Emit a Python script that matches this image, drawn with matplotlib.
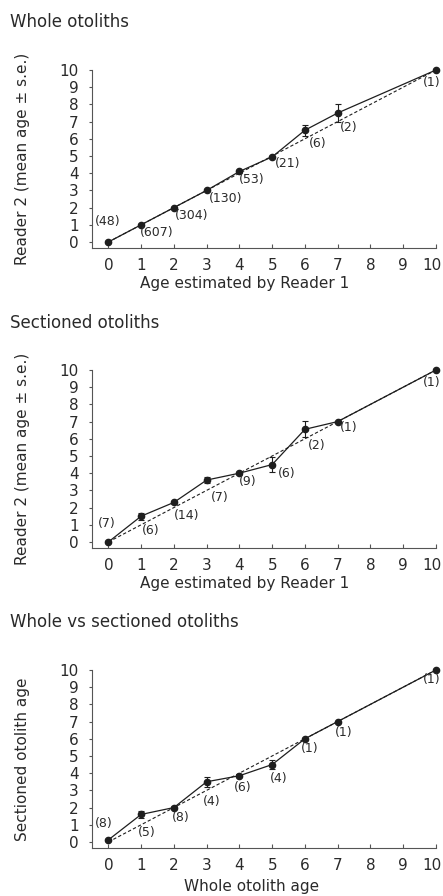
import matplotlib
matplotlib.use('Agg')
import matplotlib.pyplot as plt
from matplotlib.transforms import ScaledTranslation

# ages (x) shared by all three panels
ages = [0, 1, 2, 3, 4, 5, 6, 7, 10]

# Whole otoliths: reader 2 mean age, s.e., sample sizes
whole_mean = [0.0, 1.0, 2.0, 3.0, 4.1, 4.95, 6.5, 7.5, 10.0]
whole_se = [0.03, 0.02, 0.03, 0.03, 0.05, 0.05, 0.33, 0.5, 0.0]
whole_n = [48, 607, 304, 130, 53, 21, 6, 2, 1]

# Sectioned otoliths
sect_mean = [0.0, 1.5, 2.3, 3.6, 4.0, 4.5, 6.55, 7.0, 10.0]
sect_se = [0.05, 0.2, 0.1, 0.15, 0.05, 0.45, 0.47, 0.0, 0.0]
sect_n = [7, 6, 14, 7, 9, 6, 2, 1, 1]

# Whole vs sectioned
wvs_mean = [0.12, 1.6, 2.0, 3.5, 3.85, 4.5, 6.0, 7.0, 10.0]
wvs_se = [0.08, 0.22, 0.1, 0.28, 0.1, 0.25, 0.05, 0.0, 0.0]
wvs_n = [8, 5, 8, 4, 6, 4, 1, 1, 1]

# label offsets (pixels) for the (n) annotations
off_whole = [(-1, 20), (16, -8), (18, -8), (19, -8), (12, -8), (15, -7), (13, -13), (11, -15), (-4, -13)]
off_sect = [(-2, 18), (10, -14), (13, -13), (13, -17), (8, -8), (14, -9), (12, -16), (11, -6), (-4, -13)]
off_wvs = [(-5, 16), (6, -18), (7, -10), (5, -20), (3, -12), (6, -14), (5, -10), (6, -11), (-4, -10)]

TXT = '#2a2a2a'
LN = '#1e1e1e'
plt.rcParams['font.family'] = 'DejaVu Sans'

fig = plt.figure(figsize=(4.43, 8.96), dpi=100)

panels = [
    ('Whole otoliths', whole_mean, whole_se, whole_n, off_whole,
     'Age estimated by Reader 1', 'Reader 2 (mean age \u00b1 s.e.)', 0.7232, (0.445, -0.197), 22),
    ('Sectioned otoliths', sect_mean, sect_se, sect_n, off_sect,
     'Age estimated by Reader 1', 'Reader 2 (mean age \u00b1 s.e.)', 0.3884, (0.445, -0.197), 323),
    ('Whole vs sectioned otoliths', wvs_mean, wvs_se, wvs_n, off_wvs,
     'Whole otolith age', 'Sectioned otolith age', 0.0536, (0.464, -0.219), 622),
]

for title, mean, se, n, offs, xl, yl, bottom, xlc, title_y in panels:
    ax = fig.add_axes([92 / 443, bottom, 344 / 443, 0.1987])
    # 1:1 reference line
    ax.plot([ages[0], ages[-1]], [ages[0], ages[-1]], ls=(0, (3, 2)), color=LN,
            lw=0.8, clip_on=False)
    ax.errorbar(ages, mean, yerr=se, fmt='-o', color=LN, lw=0.9, ms=4.5,
                capsize=2.5, elinewidth=0.8, capthick=0.8, clip_on=False)
    for x, y, cnt, (dx, dy) in zip(ages, mean, n, offs):
        ax.annotate(f'({cnt})', (x, y), xytext=(dx, dy), textcoords='offset pixels',
                    ha='center', va='center', fontsize=9, color=TXT)
    ax.set_xlim(-0.5, 10)
    ax.set_ylim(-0.35, 10)
    ax.set_xticks(range(0, 11))
    ax.set_yticks(range(0, 11))
    for s in ['top', 'right']:
        ax.spines[s].set_visible(False)
    for s in ['left', 'bottom']:
        ax.spines[s].set_color('#555555')
        ax.spines[s].set_linewidth(0.8)
    ax.tick_params(axis='x', direction='in', length=3, pad=7, labelsize=11,
                   colors='#555555', labelcolor=TXT)
    ax.tick_params(axis='y', direction='out', length=2.5, pad=7, labelsize=11,
                   colors='#555555', labelcolor=TXT)
    # keep the last x tick label inside the figure edge
    last = ax.get_xticklabels()[-1]
    last.set_transform(last.get_transform() + ScaledTranslation(-0.045, 0, fig.dpi_scale_trans))
    ax.set_xlabel(xl, fontsize=11, color=TXT, va='center')
    ax.xaxis.set_label_coords(*xlc)
    ax.set_ylabel(yl, fontsize=11, color=TXT, va='center')
    ax.yaxis.set_label_coords(-0.203, 0.5)
    fig.text(10 / 443, 1 - title_y / 896, title, fontsize=12, color=TXT,
             ha='left', va='center')

fig.savefig('out.png', dpi=100)
